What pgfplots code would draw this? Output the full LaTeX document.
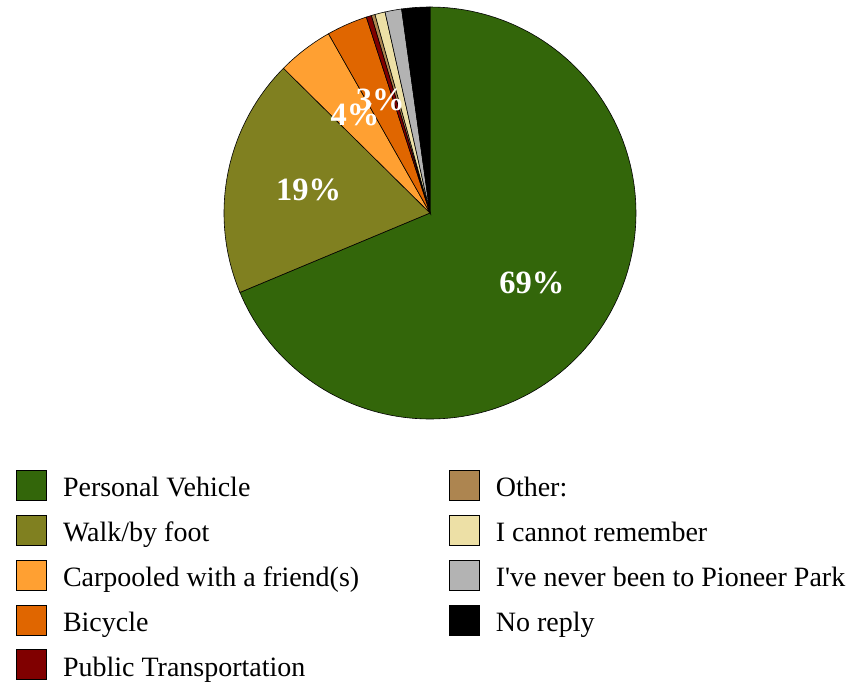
\documentclass[border=0pt]{standalone}
\usepackage{fontspec}
\setmainfont{Liberation Serif}[Ligatures=TeXOff]
\usepackage{pgfplots}
\pgfplotsset{compat=1.18}
\definecolor{cPV}{RGB}{51,102,10}
\definecolor{cWalk}{RGB}{128,128,32}
\definecolor{cCar}{RGB}{255,160,50}
\definecolor{cBike}{RGB}{224,102,0}
\definecolor{cPub}{RGB}{128,0,0}
\definecolor{cOther}{RGB}{173,133,80}
\definecolor{cCant}{RGB}{237,224,166}
\definecolor{cNever}{RGB}{179,179,179}
\definecolor{cNo}{RGB}{0,0,0}
% Shares (percent): PV 68.7, Walk 18.7, Carpool 4.4, Bicycle 3.2, Public 0.4,
% Other 0.3, Cannot remember 0.8, Never been 1.3, No reply 2.2
\newcommand{\LE}[1]{\raisebox{0pt}[6pt][6pt]{#1}}
\begin{document}
\begin{tikzpicture}[x=1pt,y=1pt]
\useasboundingbox (0,0) rectangle (852,-685);
\begin{axis}[at={(430pt,-213pt)}, anchor=center, scale only axis,
  width=412pt, height=412pt, xmin=-1, xmax=1, ymin=-1, ymax=1,
  hide axis, clip=false,
  legend columns=2,
  legend style={at={(-0.5048,-0.1238)}, anchor=north west, draw=none, fill=none,
    font=\fontsize{28}{32}\selectfont, row sep=14pt, inner sep=0pt,
    nodes={inner sep=0pt}},
  /tikz/every odd column/.append style={column sep=16pt},
  legend cell align=left,
  legend image code/.code={\draw[#1,draw=black,line width=0.8pt] (0pt,-6pt) rectangle (30pt,24pt);},
]
\addplot[fill=cPV, draw=black, line width=0.6pt, domain=0:68.7, samples=150] ({sin(3.6*x)},{cos(3.6*x)}) -- (axis cs:0,0) -- cycle;
\addlegendentry{\LE{\makebox[386pt][l]{Personal Vehicle}}}
\addplot[fill=cOther, draw=black, line width=0.6pt, domain=95.4:95.7, samples=3] ({sin(3.6*x)},{cos(3.6*x)}) -- (axis cs:0,0) -- cycle;
\addlegendentry{\LE{Other:}}
\addplot[fill=cWalk, draw=black, line width=0.6pt, domain=68.7:87.4, samples=60] ({sin(3.6*x)},{cos(3.6*x)}) -- (axis cs:0,0) -- cycle;
\addlegendentry{\LE{\makebox[386pt][l]{Walk/by foot}}}
\addplot[fill=cCant, draw=black, line width=0.6pt, domain=95.7:96.5, samples=4] ({sin(3.6*x)},{cos(3.6*x)}) -- (axis cs:0,0) -- cycle;
\addlegendentry{\LE{I cannot remember}}
\addplot[fill=cCar, draw=black, line width=0.6pt, domain=87.4:91.8, samples=20] ({sin(3.6*x)},{cos(3.6*x)}) -- (axis cs:0,0) -- cycle;
\addlegendentry{\LE{\makebox[386pt][l]{Carpooled with a friend(s)}}}
\addplot[fill=cNever, draw=black, line width=0.6pt, domain=96.5:97.8, samples=6] ({sin(3.6*x)},{cos(3.6*x)}) -- (axis cs:0,0) -- cycle;
\addlegendentry{\LE{I've never been to Pioneer Park}}
\addplot[fill=cBike, draw=black, line width=0.6pt, domain=91.8:95.0, samples=15] ({sin(3.6*x)},{cos(3.6*x)}) -- (axis cs:0,0) -- cycle;
\addlegendentry{\LE{\makebox[386pt][l]{Bicycle}}}
\addplot[fill=cNo, draw=black, line width=0.6pt, domain=97.8:100, samples=10] ({sin(3.6*x)},{cos(3.6*x)}) -- (axis cs:0,0) -- cycle;
\addlegendentry{\LE{No reply}}
\addplot[fill=cPub, draw=black, line width=0.6pt, domain=95.0:95.4, samples=3] ({sin(3.6*x)},{cos(3.6*x)}) -- (axis cs:0,0) -- cycle;
\addlegendentry{\LE{\makebox[386pt][l]{Public Transportation}}}
\node[text=white, font=\fontsize{32.5}{35}\selectfont\bfseries] at (axis cs:0.495,-0.34) {69\%};
\node[text=white, font=\fontsize{32.5}{35}\selectfont\bfseries] at (axis cs:-0.589,0.114) {19\%};
\node[text=white, font=\fontsize{32.5}{35}\selectfont\bfseries] at (axis cs:-0.364,0.477) {4\%};
\node[text=white, font=\fontsize{32.5}{35}\selectfont\bfseries] at (axis cs:-0.242,0.549) {3\%};
\end{axis}
\end{tikzpicture}
\end{document}
